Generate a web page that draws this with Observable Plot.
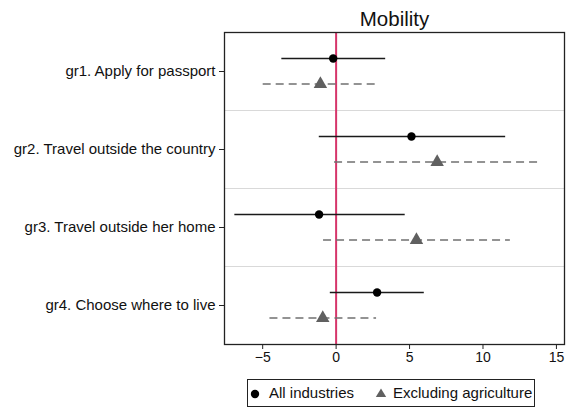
<!DOCTYPE html>
<html>
<head>
<meta charset="utf-8">
<script src="https://cdn.jsdelivr.net/npm/d3@7"></script>
<script src="https://cdn.jsdelivr.net/npm/@observablehq/plot@0.6"></script>
<style>
  html, body { margin: 0; padding: 0; background: #fff; }
  body { font-family: "Liberation Sans", Arial, sans-serif; }
  #wrap { position: relative; width: 566px; height: 408px; }
  #legend { position: absolute; left: 247px; top: 379px; width: 288px; height: 28px;
            border: 1px solid #222; box-sizing: border-box;
            font-size: 15px; color: #111; }
  #legend .sym { position: absolute; top: 5px; }
  #legend .lab { position: absolute; top: 4px; line-height: 18px; white-space: nowrap; }
</style>
</head>
<body>
<div id="wrap"></div>
<script>
const categories = [
  "gr1. Apply for passport",
  "gr2. Travel outside the country",
  "gr3. Travel outside her home",
  "gr4. Choose where to live"
];
const seriesNames = ["All industries", "Excluding agriculture"];
const allEst = [-0.2, 5.13, -1.16, 2.79];
const allLo  = [-3.73, -1.18, -6.93, -0.43];
const allHi  = [3.34, 11.51, 4.67, 5.97];
const exEst  = [-1.07, 6.88, 5.47, -0.91];
const exLo   = [-5.0, -0.14, -0.89, -4.54];
const exHi   = [2.72, 13.92, 11.83, 2.72];
const xTicks = [-5, 0, 5, 10, 15];
const titleText = "Mobility";

const allRows = categories.map((c, i) => ({cat: c, est: allEst[i], lo: allLo[i], hi: allHi[i]}));
const exRows  = categories.map((c, i) => ({cat: c, est: exEst[i], lo: exLo[i], hi: exHi[i]}));

const chart = Plot.plot({
  width: 566,
  height: 372,
  marginLeft: 224,
  marginRight: 2,
  marginTop: 32,
  marginBottom: 28,
  style: {fontFamily: "Liberation Sans, Arial, sans-serif", color: "#111", background: "#fff"},
  x: {domain: [-7.6, 15.55], ticks: xTicks, label: null},
  y: {type: "point", domain: categories, padding: 0.5, label: null},
  marks: [
    Plot.ruleY(categories.slice(0, 3), {y: d => d, dy: 39, stroke: "#d9d9d9", strokeWidth: 1.2}),
    Plot.ruleX([0], {stroke: "#d6356a", strokeWidth: 2}),
    Plot.link(allRows, {x1: "lo", x2: "hi", y1: "cat", y2: "cat", dy: -13, stroke: "#1a1a1a", strokeWidth: 1.5}),
    Plot.link(exRows, {x1: "lo", x2: "hi", y1: "cat", y2: "cat", dy: 12.5, stroke: "#707070", strokeWidth: 1.5, strokeDasharray: "8,5"}),
    Plot.dot(allRows, {x: "est", y: "cat", dy: -13, r: 4.2, fill: "#000", stroke: "none"}),
    Plot.dot(exRows, {x: "est", y: "cat", dy: 12.5, r: 5, symbol: "triangle", fill: "#606060", stroke: "none"}),
    Plot.frame({stroke: "#222", strokeWidth: 1.3}),
    Plot.axisX({ticks: xTicks, tickSize: 5, tickPadding: 3, fontSize: 14, label: null, stroke: "#222"}),
    Plot.axisY({tickSize: 5, tickPadding: 4, fontSize: 15, label: null, stroke: "#222"}),
    Plot.text([titleText], {frameAnchor: "top", dy: -21.5, fontSize: 20.5, fill: "#111"})
  ]
});

const wrap = document.getElementById("wrap");
wrap.appendChild(chart);

const legend = document.createElement("div");
legend.id = "legend";
legend.innerHTML =
  `<svg class="sym" style="left:0px" width="14" height="16"><circle cx="7" cy="9" r="4.2" fill="#000"/></svg>` +
  `<span class="lab" style="left:21px">${seriesNames[0]}</span>` +
  `<svg class="sym" style="left:126px" width="14" height="16"><path d="M7 3.5 L12.2 12 L1.8 12 Z" fill="#606060"/></svg>` +
  `<span class="lab" style="left:145px">${seriesNames[1]}</span>`;
wrap.appendChild(legend);
</script>
</body>
</html>
